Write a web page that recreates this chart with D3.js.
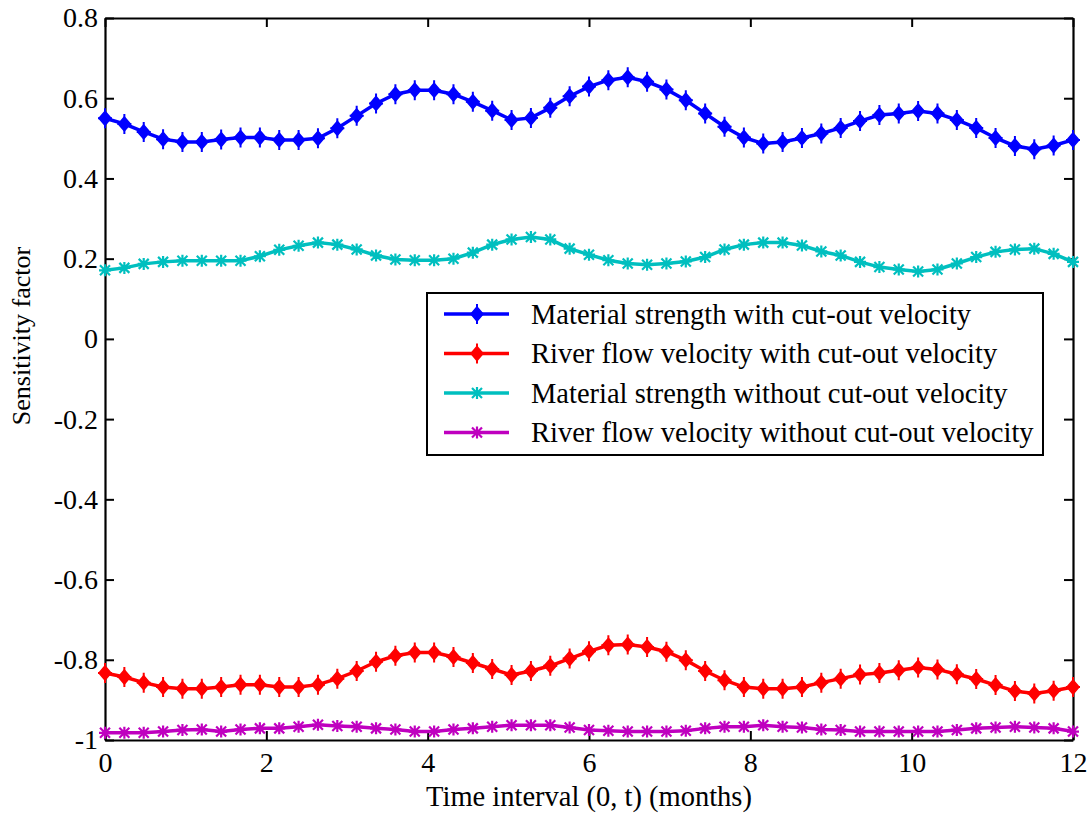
<!DOCTYPE html>
<meta charset="utf-8">
<style>
body { margin: 0; background: #fff; }
text { font-family: "Liberation Serif", "Times New Roman", serif; fill: #000; }
</style>
<svg id="chart" width="1091" height="814"></svg>
<script src="https://d3js.org/d3.v7.min.js"></script>
<script>

// time points, 0..12 months in steps of 0.24
var times = d3.range(51).map(function(i) { return +(i * 0.24).toFixed(2); });

var matWith = [0.550, 0.536, 0.516, 0.498, 0.491, 0.491, 0.497, 0.502, 0.502, 0.496,
  0.496, 0.500, 0.525, 0.556, 0.587, 0.610, 0.620, 0.620, 0.610, 0.591,
  0.569, 0.546, 0.551, 0.576, 0.605, 0.629, 0.645, 0.652, 0.641, 0.622,
  0.595, 0.562, 0.529, 0.502, 0.487, 0.491, 0.501, 0.512, 0.526, 0.543,
  0.558, 0.562, 0.568, 0.562, 0.546, 0.526, 0.501, 0.481, 0.473, 0.482, 0.496];

var riverWith = [-0.833, -0.843, -0.857, -0.868, -0.872, -0.872, -0.868, -0.862, -0.862, -0.868,
  -0.868, -0.862, -0.847, -0.828, -0.805, -0.790, -0.782, -0.782, -0.793, -0.808,
  -0.823, -0.838, -0.828, -0.815, -0.797, -0.779, -0.764, -0.762, -0.768, -0.780,
  -0.801, -0.828, -0.851, -0.868, -0.872, -0.872, -0.868, -0.857, -0.847, -0.837,
  -0.833, -0.826, -0.819, -0.824, -0.836, -0.848, -0.863, -0.878, -0.884, -0.877, -0.868];

var matWithout = [0.171, 0.177, 0.187, 0.192, 0.195, 0.195, 0.195, 0.195, 0.206, 0.222,
  0.232, 0.240, 0.235, 0.223, 0.208, 0.198, 0.196, 0.196, 0.200, 0.215,
  0.235, 0.248, 0.254, 0.248, 0.225, 0.210, 0.196, 0.188, 0.185, 0.188,
  0.193, 0.204, 0.223, 0.235, 0.240, 0.240, 0.233, 0.218, 0.208, 0.192,
  0.179, 0.173, 0.168, 0.173, 0.188, 0.204, 0.217, 0.223, 0.225, 0.212, 0.192];

var riverWithout = [-0.982, -0.982, -0.982, -0.979, -0.975, -0.974, -0.979, -0.974, -0.971, -0.971,
  -0.967, -0.962, -0.965, -0.967, -0.971, -0.974, -0.979, -0.979, -0.974, -0.971,
  -0.967, -0.963, -0.963, -0.963, -0.969, -0.975, -0.977, -0.979, -0.979, -0.979,
  -0.977, -0.971, -0.967, -0.967, -0.963, -0.967, -0.969, -0.974, -0.975, -0.979,
  -0.979, -0.979, -0.979, -0.979, -0.975, -0.971, -0.969, -0.967, -0.969, -0.971, -0.979];

var seriesNames = ["Material strength with cut-out velocity",
  "River flow velocity with cut-out velocity",
  "Material strength without cut-out velocity",
  "River flow velocity without cut-out velocity"];
var seriesValues = [matWith, riverWith, matWithout, riverWithout];
var seriesColors = ["#0000ff", "#ff0000", "#00bfbf", "#bf00bf"];
var seriesMarkers = ["diamond", "diamond", "star", "star"];

var xTicks = [0, 2, 4, 6, 8, 10, 12];
var yTicks = [-1, -0.8, -0.6, -0.4, -0.2, 0, 0.2, 0.4, 0.6, 0.8];

var svg = d3.select("#chart"),
    margin = {top: 18, right: 18, bottom: 74, left: 105},
    width = +svg.attr("width") - margin.left - margin.right,
    height = +svg.attr("height") - margin.top - margin.bottom;

var x = d3.scaleLinear().domain([0, 12]).range([0, width]);
var y = d3.scaleLinear().domain([-1, 0.8]).range([height, 0]);

var g = svg.append("g")
    .attr("transform", "translate(" + margin.left + "," + margin.top + ")");

// MATLAB style labels: plain hyphen, no leading zero trimming
function fmt(v) {
  if (v === 0) return "0";
  if (v === -1) return "-1";
  return d3.format(".1f")(v).replace("\u2212", "-");
}

// axes: ticks point inward, box on all sides
var tickLen = 9;
var xAxisG = g.append("g")
    .attr("transform", "translate(0," + height + ")")
    .call(d3.axisBottom(x).tickValues(xTicks).tickSizeInner(-tickLen).tickSizeOuter(0).tickFormat(d3.format("d")));
g.append("g")
    .call(d3.axisTop(x).tickValues(xTicks).tickSizeInner(-tickLen).tickSizeOuter(0).tickFormat(""));
var yAxisG = g.append("g")
    .call(d3.axisLeft(y).tickValues(yTicks).tickSizeInner(-tickLen).tickSizeOuter(0).tickFormat(fmt));
g.append("g")
    .attr("transform", "translate(" + width + ",0)")
    .call(d3.axisRight(y).tickValues(yTicks).tickSizeInner(-tickLen).tickSizeOuter(0).tickFormat(""));

xAxisG.selectAll(".tick text").attr("y", 32).attr("dy", 0);
yAxisG.selectAll(".tick text").attr("x", -7).attr("dy", "0.32em");

g.selectAll(".domain").attr("stroke", "#000").attr("stroke-width", 2.2);
g.selectAll(".tick line").attr("stroke", "#000").attr("stroke-width", 2);
g.selectAll(".tick text")
    .style("font-family", "'Liberation Serif', 'Times New Roman', serif")
    .style("font-size", "28px")
    .attr("fill", "#000");

// marker drawing
function drawMarker(sel, type, color) {
  if (type === "diamond") {
    sel.append("path")
        .attr("d", "M0,-7L6,0L0,7L-6,0Z")
        .attr("fill", color).attr("stroke", color).attr("stroke-width", 1.5);
    sel.append("path")
        .attr("d", "M0,-10V10M-7,0H7")
        .attr("stroke", color).attr("stroke-width", 2);
  } else {
    sel.append("path")
        .attr("d", "M0,-6V6M-6,0H6M-5,-5L5,5M-5,5L5,-5")
        .attr("stroke", color).attr("stroke-width", 2.2);
  }
}

var line = d3.line()
    .x(function(d, i) { return x(times[i]); })
    .y(function(d) { return y(d); });

seriesValues.forEach(function(vals, k) {
  var s = g.append("g").attr("class", "series");
  s.append("path")
      .datum(vals)
      .attr("fill", "none")
      .attr("stroke", seriesColors[k])
      .attr("stroke-width", 3.5)
      .attr("d", line);
  s.selectAll(".pt")
      .data(vals)
    .enter().append("g")
      .attr("class", "pt")
      .attr("transform", function(d, i) { return "translate(" + x(times[i]) + "," + y(d) + ")"; })
      .each(function() { drawMarker(d3.select(this), seriesMarkers[k], seriesColors[k]); });
});

// legend
var legend = svg.append("g").attr("transform", "translate(427,293)");
legend.append("rect")
    .attr("width", 616).attr("height", 162)
    .attr("fill", "#fff").attr("stroke", "#000").attr("stroke-width", 2);
seriesNames.forEach(function(name, k) {
  var row = legend.append("g").attr("transform", "translate(0," + (21 + k * 39.5) + ")");
  row.append("line")
      .attr("x1", 17).attr("x2", 82)
      .attr("stroke", seriesColors[k]).attr("stroke-width", 3.5);
  drawMarker(row.append("g").attr("transform", "translate(50,0)"), seriesMarkers[k], seriesColors[k]);
  row.append("text")
      .attr("x", 104).attr("dy", "0.35em")
      .style("font-size", "28.5px")
      .text(name);
});

// axis titles
svg.append("text")
    .attr("x", margin.left + width / 2).attr("y", 806)
    .attr("text-anchor", "middle")
    .style("font-size", "28.5px")
    .text("Time interval (0, t) (months)");
svg.append("text")
    .attr("transform", "translate(30,336) rotate(-90)")
    .attr("text-anchor", "middle")
    .style("font-size", "26px")
    .text("Sensitivity factor");

</script>
